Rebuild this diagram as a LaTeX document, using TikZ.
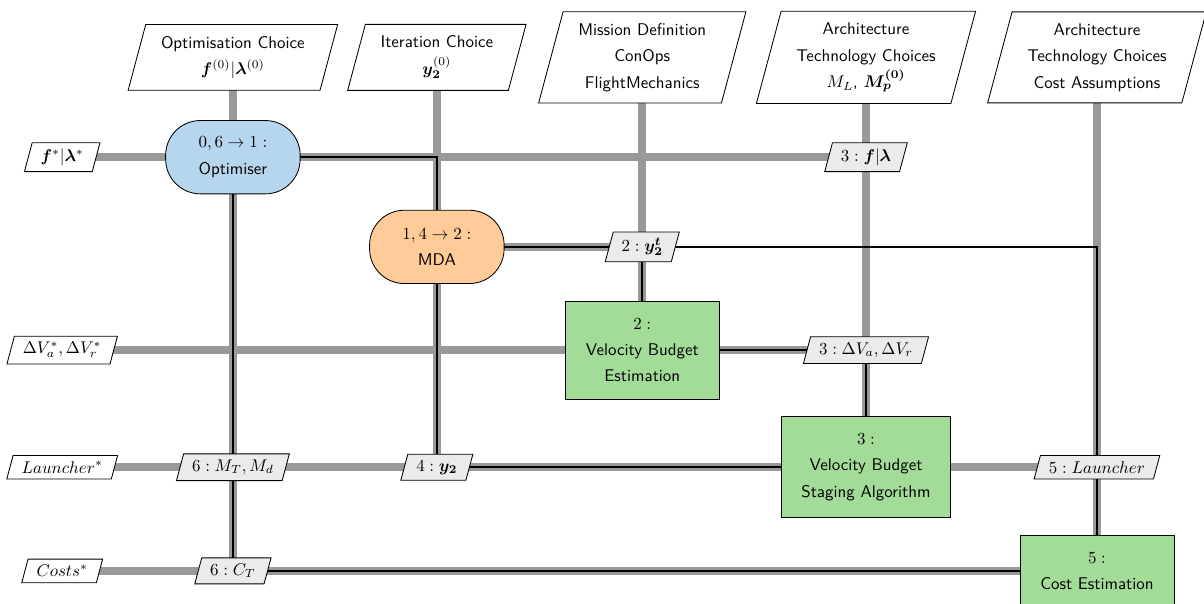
\documentclass[tikz,border=0pt]{standalone}
\usepackage{amsmath,amssymb}
\usepackage{bm}
\usepackage{xcolor}
\usepackage{tikz}
\usetikzlibrary{shapes.geometric,backgrounds}
\newcommand{\lam}{\bm{\lambda}}
\newcommand{\fv}{\bm{f}}
\newcommand{\ytwo}{\bm{y_2}}
\newcommand{\nodefont}{\sffamily\fontsize{10}{15.6}\selectfont}
\definecolor{optFill}{RGB}{182,214,238}
\definecolor{mdaFill}{RGB}{255,204,153}
\definecolor{funcFill}{RGB}{163,219,152}
\definecolor{dataFill}{RGB}{235,235,235}

\begin{document}
\begin{tikzpicture}[
    every node/.style={font=\nodefont},
    optim/.style={draw=black, line width=0.5pt, rectangle, rounded corners=0.72cm,
                minimum width=2.79cm, minimum height=1.52cm,
                fill=optFill, align=center, font=\nodefont},
    mdabox/.style={optim, fill=mdaFill},
    func/.style={draw=black, line width=0.5pt, rectangle,
                inner xsep=12pt, inner ysep=10pt,
                fill=funcFill, align=center, font=\nodefont},
    inbox/.style={draw=black, line width=0.5pt, trapezium,
                trapezium left angle=75, trapezium right angle=105,
                inner xsep=9pt, inner ysep=6.8pt,
                fill=white, align=center, font=\nodefont},
    datanode/.style={inbox, inner xsep=5pt, inner ysep=3.5pt, fill=dataFill},
    outnode/.style={datanode, fill=white},
    dataline/.style={draw=black!40, line width=4.5pt},
    procline/.style={draw=black, line width=1.1pt}
  ]
    \useasboundingbox (0,0) rectangle (24.97,-12.52);

    % Inputs
    \node[inbox] (inOpt)  at (4.83, -1.19)  {Optimisation Choice\\$\fv^{(0)}|\lam^{(0)}$};
    \node[inbox] (inMda)  at (9.06, -1.19)  {Iteration Choice\\$\bm{y}_{\bm{2}}^{(0)}$};
    \node[inbox] (inVbe)  at (13.32, -1.19) {Mission Definition\\ConOps\\FlightMechanics};
    \node[inbox] (inVbs)  at (17.96, -1.19) {Architecture\\Technology Choices\\$M_L$, $\bm{M_p^{(0)}}$};
    \node[inbox] (inCost) at (22.75, -1.19) {Architecture\\Technology Choices\\Cost Assumptions};

    % Diagonal
    \node[optim]  (opt)  at (4.83, -3.26)   {$0, 6 \rightarrow 1:$\\Optimiser};
    \node[mdabox] (mda)  at (9.06, -5.12)   {$1, 4 \rightarrow 2:$\\MDA};
    \node[func]   (vbe)  at (13.32, -7.26)  {$2:$\\Velocity Budget\\Estimation};
    \node[func]   (vbs)  at (17.96, -9.69)  {$3:$\\Velocity Budget\\Staging Algorithm};
    \node[func]   (cost) at (22.75, -11.84) {$5:$\\Cost Estimation};

    % Coupling data
    \node[datanode] (dFlam)   at (17.96, -3.26)  {$3:\fv|\lam$};
    \node[datanode] (dYt)     at (13.32, -5.12)  {$2:\bm{y_2^t}$};
    \node[datanode] (dDv)     at (17.96, -7.26)  {$3:\Delta V_a, \Delta V_r$};
    \node[datanode] (dMass)   at (4.83, -9.69)   {$6:M_T, M_d$};
    \node[datanode] (dY)      at (9.06, -9.69)   {$4:\ytwo$};
    \node[datanode] (dLaunch) at (22.75, -9.69)  {$5:Launcher$};
    \node[datanode] (dCost)   at (4.83, -11.84)  {$6:C_T$};

    % Outputs
    \node[outnode] (outOpt)    at (1.29, -3.26)  {$\fv^*|\lam^*$};
    \node[outnode] (outDv)     at (1.29, -7.26)  {$\Delta V_a^*, \Delta V_r^*$};
    \node[outnode] (outLaunch) at (1.29, -9.69)  {$Launcher^*$};
    \node[outnode] (outCost)   at (1.29, -11.84) {$Costs^*$};

    \begin{pgfonlayer}{background}
      % Data lines, vertical
      \draw[dataline] (inOpt.center)  -- (dCost.center);
      \draw[dataline] (inMda.center)  -- (dY.center);
      \draw[dataline] (inVbe.center)  -- (vbe.center);
      \draw[dataline] (inVbs.center)  -- (vbs.center);
      \draw[dataline] (inCost.center) -- (cost.center);
      % Data lines, horizontal
      \draw[dataline] (outOpt.center)    -- (dFlam.center);
      \draw[dataline] (mda.center)       -- (dYt.center);
      \draw[dataline] (outDv.center)     -- (dDv.center);
      \draw[dataline] (outLaunch.center) -- (dLaunch.center);
      \draw[dataline] (outCost.center)   -- (cost.center);

      % Process chain
      \draw[procline] (opt.center)  -| (mda.center);
      \draw[procline] (mda.center)  -| (vbe.center);
      \draw[procline] (vbe.center)  -| (vbs.center);
      \draw[procline] (vbs.center)  -| (mda.center);
      \draw[procline] (mda.center)  -| (cost.center);
      \draw[procline] (cost.center) -| (opt.center);
    \end{pgfonlayer}
\end{tikzpicture}
\end{document}
